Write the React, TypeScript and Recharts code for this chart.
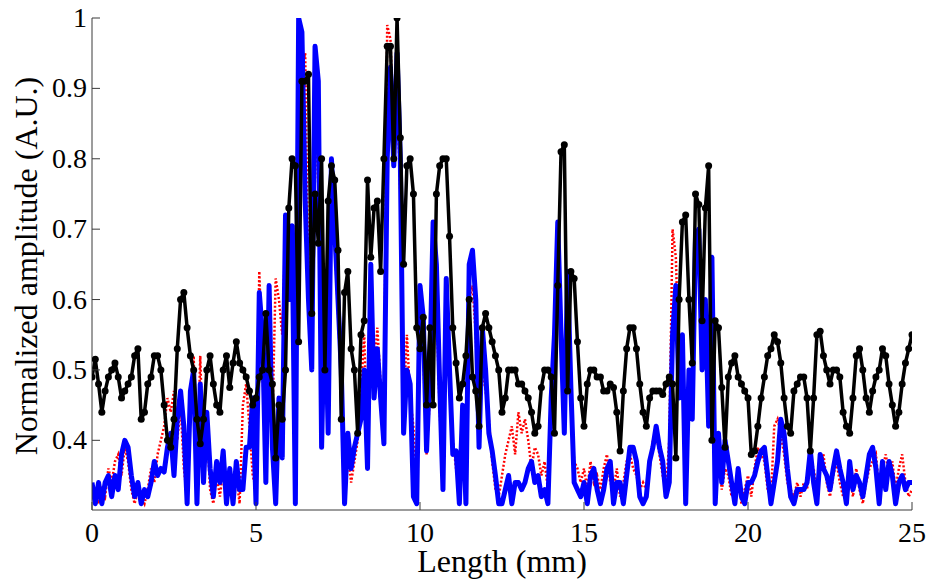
import { LineChart, Line, XAxis, YAxis } from 'recharts';

// sample positions along the trace, 0.1 mm apart
const LENGTH_MM = Array.from({ length: 251 }, (_, i) => Math.round(i) / 10);

const X_TICKS = [0, 5, 10, 15, 20, 25];
const Y_TICKS = [0.4, 0.5, 0.6, 0.7, 0.8, 0.9, 1];

// black trace with dot markers
const BLACK_TRACE = [
  0.49, 0.515, 0.48, 0.44, 0.47, 0.49, 0.5, 0.51, 0.49, 0.46,
  0.47, 0.48, 0.49, 0.52, 0.53, 0.43, 0.44, 0.48, 0.49, 0.52,
  0.52, 0.5, 0.45, 0.4, 0.39, 0.43, 0.53, 0.6, 0.61, 0.56,
  0.52, 0.5, 0.43, 0.395, 0.43, 0.5, 0.52, 0.48, 0.45, 0.44,
  0.5, 0.52, 0.475, 0.51, 0.54, 0.51, 0.5, 0.49, 0.47, 0.45,
  0.46, 0.49, 0.5, 0.58, 0.5, 0.48, 0.375, 0.45, 0.43, 0.5,
  0.73, 0.8, 0.79, 0.54, 0.91, 0.91, 0.92, 0.58, 0.75, 0.68,
  0.8, 0.5, 0.74, 0.79, 0.77, 0.67, 0.43, 0.61, 0.64, 0.53,
  0.5, 0.41, 0.55, 0.57, 0.77, 0.66, 0.73, 0.74, 0.64, 0.8,
  0.96, 0.96, 0.8, 1.0, 0.83, 0.65, 0.79, 0.8, 0.75, 0.56,
  0.53, 0.575, 0.45, 0.56, 0.45, 0.75, 0.79, 0.8, 0.8, 0.69,
  0.56, 0.51, 0.46, 0.48, 0.52, 0.6, 0.49, 0.47, 0.42, 0.56,
  0.58, 0.56, 0.54, 0.52, 0.5, 0.44, 0.46, 0.5, 0.5, 0.5,
  0.48, 0.48, 0.47, 0.46, 0.44, 0.41, 0.42, 0.475, 0.5, 0.5,
  0.49, 0.41, 0.62, 0.81, 0.82, 0.47, 0.64, 0.63, 0.54, 0.46,
  0.42, 0.48, 0.5, 0.5, 0.49, 0.49, 0.47, 0.47, 0.48, 0.475,
  0.44, 0.385, 0.47, 0.53, 0.56, 0.56, 0.53, 0.48, 0.44, 0.42,
  0.46, 0.47, 0.47, 0.47, 0.465, 0.48, 0.49, 0.48, 0.375, 0.6,
  0.71, 0.72, 0.6, 0.51, 0.75, 0.735, 0.57, 0.73, 0.79, 0.4,
  0.57, 0.56, 0.475, 0.39, 0.49, 0.51, 0.52, 0.49, 0.48, 0.47,
  0.46, 0.38, 0.385, 0.42, 0.46, 0.49, 0.52, 0.53, 0.55, 0.54,
  0.51, 0.46, 0.42, 0.41, 0.47, 0.48, 0.49, 0.49, 0.46, 0.385,
  0.46, 0.55, 0.555, 0.52, 0.5, 0.48, 0.5, 0.5, 0.49, 0.44,
  0.42, 0.41, 0.46, 0.52, 0.53, 0.5, 0.46, 0.44, 0.47, 0.49,
  0.5, 0.53, 0.52, 0.48, 0.45, 0.42, 0.44, 0.48, 0.51, 0.53,
  0.55,
];

// thick blue trace
const BLUE_TRACE = [
  0.34, 0.31, 0.34, 0.31, 0.34, 0.35, 0.32, 0.35, 0.33, 0.38,
  0.4, 0.39, 0.35, 0.32, 0.34, 0.31, 0.33, 0.32, 0.34, 0.37,
  0.35, 0.36, 0.355, 0.39, 0.41, 0.35, 0.43, 0.47, 0.42, 0.31,
  0.47, 0.5, 0.31, 0.48, 0.34, 0.44, 0.36, 0.32, 0.37, 0.34,
  0.385, 0.31, 0.36, 0.31, 0.37, 0.33, 0.33, 0.39, 0.39, 0.46,
  0.31, 0.61, 0.55, 0.34, 0.62, 0.39, 0.31, 0.46, 0.375, 0.72,
  0.6, 0.705, 0.31, 1.0, 0.98, 0.74, 0.6, 0.5, 0.96, 0.91,
  0.39, 0.62, 0.41, 0.8, 0.7, 0.6, 0.5, 0.31, 0.41, 0.36,
  0.39, 0.41, 0.43, 0.5, 0.36, 0.65, 0.46, 0.53, 0.46, 0.395,
  0.8, 0.93, 0.79, 0.95, 0.8, 0.41, 0.5, 0.48, 0.32, 0.31,
  0.62, 0.575, 0.385, 0.5, 0.71, 0.65, 0.48, 0.33, 0.63, 0.5,
  0.38, 0.385, 0.31, 0.45, 0.31, 0.65, 0.67, 0.6, 0.39, 0.56,
  0.5, 0.41, 0.385, 0.35, 0.31, 0.31, 0.33, 0.35, 0.31, 0.34,
  0.34, 0.33, 0.34, 0.36, 0.37, 0.34, 0.35, 0.32, 0.33, 0.31,
  0.46, 0.55, 0.71, 0.55, 0.41, 0.64, 0.475, 0.34, 0.33, 0.32,
  0.34, 0.31, 0.35, 0.36, 0.33, 0.31, 0.33, 0.36, 0.37, 0.31,
  0.34, 0.34, 0.31, 0.35, 0.39, 0.39, 0.37, 0.32, 0.31, 0.32,
  0.37, 0.39, 0.42, 0.39, 0.37, 0.32, 0.34, 0.55, 0.62, 0.46,
  0.55, 0.31, 0.5, 0.43, 0.69, 0.7, 0.5, 0.6, 0.42, 0.66,
  0.31, 0.41, 0.34, 0.4, 0.37, 0.34, 0.31, 0.36, 0.32, 0.31,
  0.34, 0.34, 0.35, 0.37, 0.385, 0.39, 0.35, 0.31, 0.34, 0.37,
  0.43, 0.41, 0.36, 0.32, 0.31, 0.33, 0.33, 0.33, 0.34, 0.385,
  0.34, 0.31, 0.38, 0.36, 0.35, 0.33, 0.36, 0.385, 0.36, 0.34,
  0.31, 0.37, 0.33, 0.35, 0.34, 0.32, 0.35, 0.38, 0.39, 0.36,
  0.31, 0.37, 0.33, 0.37, 0.35, 0.31, 0.34, 0.35, 0.33, 0.34,
  0.34,
];

// red dotted trace, mostly hidden behind the blue one
const RED_TRACE = [
  0.32, 0.33, 0.31, 0.33, 0.32, 0.36, 0.34, 0.37, 0.38, 0.35,
  0.39, 0.37, 0.33, 0.31, 0.33, 0.32, 0.31, 0.33, 0.36, 0.34,
  0.38, 0.4, 0.42, 0.46, 0.44, 0.47, 0.4, 0.45, 0.36, 0.32,
  0.44, 0.52, 0.33, 0.52, 0.36, 0.42, 0.33, 0.31, 0.35, 0.32,
  0.36, 0.32, 0.34, 0.33, 0.35, 0.31, 0.45, 0.48, 0.42, 0.35,
  0.33, 0.64, 0.5, 0.36, 0.58, 0.43, 0.63, 0.6, 0.55, 0.7,
  0.64, 0.65, 0.33, 0.9, 0.93, 0.95, 0.62, 0.55, 0.88, 0.76,
  0.45, 0.6, 0.44, 0.75, 0.68, 0.58, 0.48, 0.33, 0.38, 0.34,
  0.37, 0.4, 0.47, 0.55, 0.38, 0.6, 0.5, 0.56, 0.48, 0.42,
  0.99, 0.97, 0.82, 0.9, 0.75, 0.45, 0.55, 0.46, 0.42, 0.33,
  0.56, 0.52, 0.38, 0.46, 0.66, 0.6, 0.44, 0.35, 0.58, 0.48,
  0.4, 0.36, 0.33, 0.42, 0.34, 0.6, 0.62, 0.55, 0.4, 0.5,
  0.47, 0.43, 0.37, 0.33, 0.32, 0.35, 0.38, 0.4, 0.42, 0.38,
  0.44, 0.41, 0.43, 0.4, 0.36, 0.39, 0.38, 0.35, 0.37, 0.33,
  0.42, 0.52, 0.66, 0.58, 0.44, 0.6, 0.45, 0.37, 0.36, 0.34,
  0.36, 0.33, 0.37, 0.34, 0.35, 0.33, 0.36, 0.38, 0.34, 0.33,
  0.36, 0.32, 0.34, 0.37, 0.38, 0.36, 0.35, 0.33, 0.34, 0.33,
  0.36, 0.4, 0.41, 0.38, 0.35, 0.33, 0.4, 0.7, 0.66, 0.5,
  0.52, 0.33, 0.47, 0.46, 0.64, 0.66, 0.52, 0.57, 0.45, 0.55,
  0.34, 0.38, 0.33, 0.36, 0.35, 0.32, 0.33, 0.35, 0.31, 0.33,
  0.35, 0.32, 0.36, 0.39, 0.38, 0.37, 0.33, 0.32, 0.42, 0.43,
  0.41, 0.38, 0.34, 0.33, 0.32, 0.34, 0.32, 0.34, 0.33, 0.37,
  0.36, 0.33, 0.36, 0.38, 0.34, 0.32, 0.35, 0.37, 0.34, 0.32,
  0.33, 0.35, 0.32, 0.36, 0.33, 0.31, 0.34, 0.36, 0.37, 0.38,
  0.33, 0.36, 0.38, 0.35, 0.37, 0.33, 0.36, 0.38, 0.34, 0.32,
  0.33,
];

const FONT = '"Liberation Serif", "Times New Roman", serif';
const AXIS_COLOR = '#3a3a3a';

const chartData = LENGTH_MM.map((x, i) => ({
  x,
  black: BLACK_TRACE[i],
  blue: BLUE_TRACE[i],
  red: RED_TRACE[i],
}));

const YTick = ({ x, y, payload }: any) => (
  <g>
    <line x1={x} y1={y} x2={x + 8} y2={y} stroke={AXIS_COLOR} />
    <text x={x - 5} y={y + 9} textAnchor="end" fontFamily={FONT} fontSize={28} fill="#000">
      {String(payload.value)}
    </text>
  </g>
);

const XTick = ({ x, y, payload }: any) => (
  <g>
    <line x1={x} y1={y} x2={x} y2={y - 8} stroke={AXIS_COLOR} />
    <text x={x} y={y + 32} textAnchor="middle" fontFamily={FONT} fontSize={28} fill="#000">
      {String(payload.value)}
    </text>
  </g>
);

const XLabel = ({ viewBox }: any) => (
  <text
    x={viewBox.x + viewBox.width / 2}
    y={572}
    textAnchor="middle"
    fontFamily={FONT}
    fontSize={32}
    fill="#000"
  >
    Length (mm)
  </text>
);

const YLabel = () => (
  <text
    x={0}
    y={0}
    transform="translate(37, 266) rotate(-90)"
    textAnchor="middle"
    fontFamily={FONT}
    fontSize={32}
    fill="#000"
  >
    Normalized amplitude (A.U.)
  </text>
);

export default function App() {
  return (
    <div style={{ width: 929, height: 583, background: '#fff' }}>
      <style>{'body { margin: 0; }'}</style>
      <LineChart
        width={929}
        height={583}
        data={chartData}
        margin={{ top: 18, right: 17, bottom: 0, left: 0 }}
      >
        <XAxis
          type="number"
          dataKey="x"
          domain={[0, 25]}
          ticks={X_TICKS}
          height={73}
          stroke={AXIS_COLOR}
          tickSize={0}
          tickMargin={0}
          tick={<XTick />}
          label={<XLabel />}
          allowDataOverflow
        />
        <YAxis
          type="number"
          domain={[0.301, 1]}
          ticks={Y_TICKS}
          width={92}
          stroke={AXIS_COLOR}
          tickSize={0}
          tickMargin={0}
          tick={<YTick />}
          label={<YLabel />}
          allowDataOverflow
        />
        <Line
          dataKey="red"
          type="linear"
          stroke="#ff0000"
          strokeWidth={2.5}
          strokeDasharray="2 2"
          dot={false}
          isAnimationActive={false}
        />
        <Line
          dataKey="blue"
          type="linear"
          stroke="#0000ff"
          strokeWidth={5}
          strokeLinejoin="round"
          dot={false}
          isAnimationActive={false}
        />
        <Line
          dataKey="black"
          type="linear"
          stroke="#000"
          strokeWidth={3.5}
          strokeLinejoin="round"
          dot={{ r: 3.5, fill: '#000', stroke: 'none' }}
          isAnimationActive={false}
        />
      </LineChart>
    </div>
  );
}
